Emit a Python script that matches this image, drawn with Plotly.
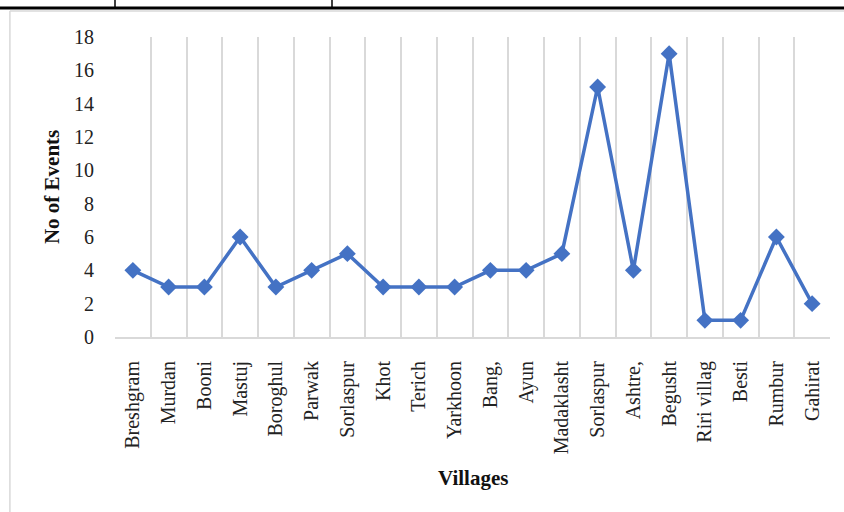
import plotly.graph_objects as go

villages = ["Breshgram", "Murdan", "Booni", "Mastuj", "Boroghul", "Parwak", "Sorlaspur",
            "Khot", "Terich", "Yarkhoon", "Bang,", "Ayun", "Madaklasht", "Sorlaspur",
            "Ashtre,", "Begusht", "Riri villag", "Besti", "Rumbur", "Gahirat"]
events = [4, 3, 3, 6, 3, 4, 5, 3, 3, 3, 4, 4, 5, 15, 4, 17, 1, 1, 6, 2]
y_ticks = [0, 2, 4, 6, 8, 10, 12, 14, 16, 18]

positions = list(range(len(villages)))
boundaries = [p - 0.5 for p in positions] + [len(villages) - 0.5]

BLUE = "#4472C4"
GRID = "#d9d9d9"
FONT = "Liberation Serif"

fig = go.Figure()
fig.add_trace(go.Scatter(
    x=positions, y=events, mode="lines+markers",
    line=dict(color=BLUE, width=3.5),
    marker=dict(symbol="diamond", size=13, color=BLUE),
    cliponaxis=False, showlegend=False,
))

fig.update_layout(
    width=844, height=512,
    margin=dict(l=115, r=14, t=37, b=175),
    paper_bgcolor="white", plot_bgcolor="white",
    font=dict(family=FONT, color="#222222"),
    xaxis=dict(
        range=[-0.5, len(villages) - 0.5],
        tickmode="array", tickvals=positions, ticktext=villages,
        tickangle=-90, showgrid=False, zeroline=False,
        tickfont=dict(size=20, family=FONT, color="#222222"),
        ticks="outside", ticklen=14, tickcolor="rgba(0,0,0,0)",
        showline=True, linecolor=GRID, linewidth=2,
        minor=dict(tickmode="array", tickvals=boundaries, showgrid=True,
                   gridcolor=GRID, gridwidth=2, ticks=""),
    ),
    yaxis=dict(
        range=[0, 18], tickmode="array", tickvals=y_ticks,
        showgrid=False, zeroline=False, showline=False,
        tickfont=dict(size=20, family=FONT, color="#222222"),
        ticks="outside", ticklen=16, tickcolor="rgba(0,0,0,0)",
    ),
    annotations=[
        dict(text="<b>No of Events</b>", xref="paper", yref="paper",
             x=-0.088, y=0.5, xanchor="center", yanchor="middle",
             textangle=-90, showarrow=False,
             font=dict(size=21, family=FONT, color="#111111")),
        dict(text="<b>Villages</b>", xref="paper", yref="paper",
             x=0.5, y=-0.47, xanchor="center", yanchor="middle",
             showarrow=False,
             font=dict(size=21, family=FONT, color="#111111")),
    ],
    shapes=[
        dict(type="line", xref="paper", yref="paper", x0=-0.147, x1=1.02,
             y0=1.087, y1=1.087, line=dict(color="#d9d9d9", width=1.5)),
        dict(type="line", xref="paper", yref="paper", x0=-0.147, x1=-0.147,
             y0=1.087, y1=-0.6, line=dict(color="#d9d9d9", width=1.5)),
        dict(type="line", xref="paper", yref="paper", x0=-0.17, x1=1.02,
             y0=1.097, y1=1.097, line=dict(color="black", width=3)),
        dict(type="line", xref="paper", yref="paper", x0=0.0, x1=0.0,
             y0=1.097, y1=1.2, line=dict(color="black", width=1.5)),
        dict(type="line", xref="paper", yref="paper", x0=0.3035, x1=0.3035,
             y0=1.097, y1=1.2, line=dict(color="black", width=1.5)),
    ],
)

fig.write_html("out.html")
